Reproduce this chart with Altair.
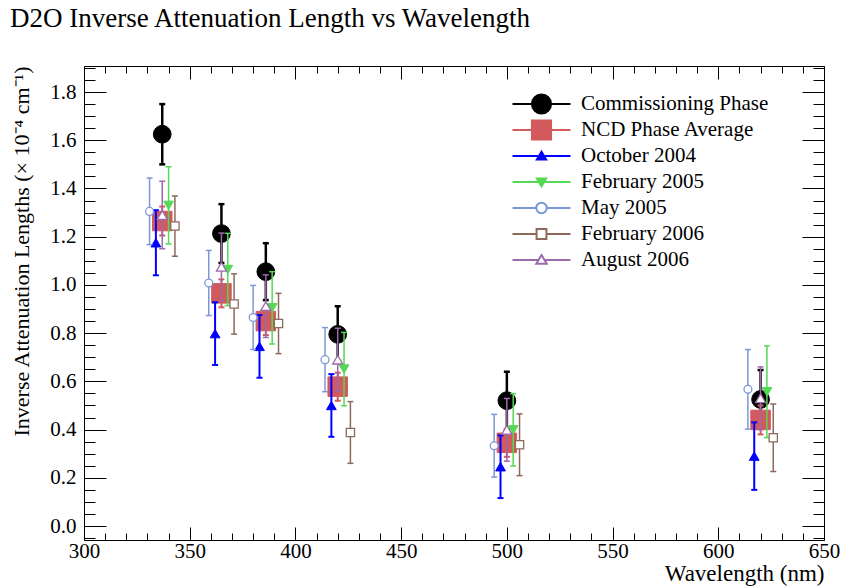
import altair as alt
import pandas as pd

# ---------------- data ----------------
wavelengths = [337, 365, 386, 420, 500, 620]
series_names = ["Commissioning Phase", "NCD Phase Average", "October 2004",
                "February 2005", "May 2005", "February 2006", "August 2006"]

commissioning = [1.625, 1.213, 1.055, 0.795, 0.520, 0.525]
commissioning_err = [0.125, 0.122, 0.118, 0.117, 0.120, 0.122]
ncd_average = [1.265, 0.965, 0.850, 0.578, 0.345, 0.440]
ncd_average_err = [0.060, 0.058, 0.058, 0.058, 0.058, 0.060]
october_2004 = [1.175, 0.798, 0.745, 0.500, 0.246, 0.290]
october_2004_err = [0.135, 0.130, 0.130, 0.130, 0.130, 0.140]
february_2005 = [1.330, 1.064, 0.905, 0.651, 0.399, 0.557]
february_2005_err = [0.160, 0.150, 0.150, 0.152, 0.150, 0.190]
may_2005 = [1.305, 1.008, 0.865, 0.690, 0.333, 0.567]
may_2005_err = [0.138, 0.135, 0.133, 0.133, 0.130, 0.165]
february_2006 = [1.244, 0.921, 0.840, 0.388, 0.337, 0.366]
february_2006_err = [0.125, 0.125, 0.125, 0.128, 0.128, 0.140]
august_2006 = [1.290, 1.075, 0.912, 0.690, 0.399, 0.530]
august_2006_err = [0.140, 0.140, 0.130, 0.130, 0.130, 0.130]

values = [commissioning, ncd_average, october_2004, february_2005,
          may_2005, february_2006, august_2006]
errors = [commissioning_err, ncd_average_err, october_2004_err, february_2005_err,
          may_2005_err, february_2006_err, august_2006_err]

x_ticks = list(range(300, 651, 10))
y_ticks = [round(-0.05 + 0.05 * i, 2) for i in range(40)]

# ---------------- styles ----------------
FONT = "Liberation Serif"
styles = {
    "Commissioning Phase": dict(color="#000000", shape="circle", size=314, fill="#000000", sw=1, ew=2.5, cap=6, shift=0),
    "NCD Phase Average": dict(color="#d25a5c", shape="square", size=380, fill="#d25a5c", sw=1, ew=2, cap=6, shift=0),
    "October 2004": dict(color="#0000ff", shape="triangle-up", size=95, fill="#0000ff", sw=1, ew=2, cap=6, shift=-3),
    "February 2005": dict(color="#55d855", shape="triangle-down", size=95, fill="#55d855", sw=1, ew=1.5, cap=6, shift=3),
    "May 2005": dict(color="#7b98d6", shape="circle", size=62, fill="#ffffff", sw=1.3, ew=1.5, cap=6, shift=-6),
    "February 2006": dict(color="#8b6a5c", shape="square", size=68, fill="#ffffff", sw=1.3, ew=1.5, cap=6, shift=6),
    "August 2006": dict(color="#9a6aaa", shape="triangle-up", size=100, fill="#ffffff", sw=1.3, ew=1.5, cap=6, shift=0),
}

# legend symbols: line + marker, in unit coordinates
legend_paths = [
    "M-1,0H1M0.33,0A0.33,0.33 0 1,1 -0.33,0A0.33,0.33 0 1,1 0.33,0Z",
    "M-1,0H1M-0.33,-0.33H0.33V0.33H-0.33Z",
    "M-1,0H1M0,-0.15L0.16,0.12L-0.16,0.12Z",
    "M-1,0H1M0,0.15L0.16,-0.12L-0.16,-0.12Z",
    "M-1,0H-0.18M0.18,0H1M0.18,0A0.18,0.18 0 1,1 -0.18,0A0.18,0.18 0 1,1 0.18,0Z",
    "M-1,0H-0.17M0.17,0H1M-0.17,-0.17H0.17V0.17H-0.17Z",
    "M-1,0H-0.1M0.1,0H1M0,-0.17L0.18,0.13L-0.18,0.13Z",
]

rows = []
for name, vals, errs in zip(series_names, values, errors):
    for wl, v, e in zip(wavelengths, vals, errs):
        rows.append(dict(series=name, wl=wl, x=wl + styles[name]["shift"],
                         y=v, lo=v - e, hi=v + e))
df = pd.DataFrame(rows)

W, H = 740, 474
xscale = alt.Scale(domain=[300, 650], nice=False, zero=False)
yscale = alt.Scale(domain=[-0.058, 1.908], nice=False, zero=False)

x_major = "abs(datum.value/50 - round(datum.value/50)) < 0.001"
y_major = "abs(datum.value*5 - round(datum.value*5)) < 0.001"

axis_common = dict(grid=False, domain=False, tickColor="black", tickWidth=1,
                   labelFont=FONT, labelFontSize=21, labelColor="black",
                   labelOverlap=False, labelFlush=False,
                   titleFont=FONT, titleFontWeight="normal",
                   titleColor="black")

x_axis_main = alt.Axis(orient="bottom", values=x_ticks, format="d",
                       tickSize={"expr": f"{x_major} ? -13 : -7"},
                       labelExpr=f"{x_major} ? datum.label : ''",
                       labelPadding=13, title="Wavelength (nm)",
                       titleAnchor="end", titleFontSize=23,
                       titleBaseline="alphabetic", titleY=40, **axis_common)
y_axis_main = alt.Axis(orient="left", values=y_ticks, format=".1f",
                       tickSize={"expr": f"{y_major} ? -22 : -11"},
                       labelExpr=f"{y_major} ? datum.label : ''",
                       labelPadding=30,
                       title="Inverse Attenuation Lengths (× 10⁻⁴ cm⁻¹)",
                       titleAnchor="end", titlePadding=16, titleFontSize=22,
                       **axis_common)
x_axis_top = alt.Axis(orient="top", values=x_ticks, labels=False, title=None,
                      tickSize={"expr": f"{x_major} ? -13 : -7"},
                      grid=False, domain=False, tickColor="black", tickWidth=1)
y_axis_right = alt.Axis(orient="right", values=y_ticks, labels=False, title=None,
                        tickSize={"expr": f"{y_major} ? -22 : -11"},
                        grid=False, domain=False, tickColor="black", tickWidth=1)

base = alt.Chart(df)

axes_a = base.mark_point(opacity=0).encode(
    x=alt.X("x:Q", scale=xscale, axis=x_axis_main),
    y=alt.Y("y:Q", scale=yscale, axis=y_axis_main))
axes_b = base.mark_point(opacity=0).encode(
    x=alt.X("x:Q", scale=xscale, axis=x_axis_top),
    y=alt.Y("y:Q", scale=yscale, axis=y_axis_right))

layers = [axes_a, axes_b]
X = alt.X("x:Q", scale=xscale, axis=None)
for name in series_names:
    st = styles[name]
    sb = base.transform_filter(alt.datum.series == name)
    layers.append(sb.mark_rule(color=st["color"], strokeWidth=st["ew"]).encode(
        x=X, y=alt.Y("lo:Q", scale=yscale, axis=None), y2="hi:Q"))
    for f in ["lo", "hi"]:
        layers.append(sb.mark_tick(orient="horizontal", color=st["color"], opacity=1,
                                   thickness=st["ew"], size=st["cap"]).encode(
            x=X, y=alt.Y(f"{f}:Q", scale=yscale, axis=None)))
    layers.append(sb.mark_point(shape=st["shape"], size=st["size"], filled=True,
                                fill=st["fill"], stroke=st["color"],
                                strokeWidth=st["sw"], opacity=1).encode(
        x=X, y=alt.Y("y:Q", scale=yscale, axis=None)))

legend = alt.Legend(orient="none", legendX=427.5, legendY=25.25, title=None,
                    padding=0, rowPadding=0, clipHeight=25.5,
                    symbolSize=3364, symbolStrokeWidth=2, symbolOpacity=1,
                    labelFont=FONT, labelFontSize=21, labelColor="black",
                    labelOffset=9.5, labelLimit=0)
legend_layer = base.transform_filter("false").mark_point(filled=True, opacity=1).encode(
    x=X, y=alt.Y("y:Q", scale=yscale, axis=None),
    shape=alt.Shape("series:N", scale=alt.Scale(domain=series_names, range=legend_paths),
                    legend=legend),
    fill=alt.Fill("series:N", scale=alt.Scale(domain=series_names,
                                              range=[styles[n]["fill"] for n in series_names]),
                  legend=legend),
    stroke=alt.Stroke("series:N", scale=alt.Scale(domain=series_names,
                                                  range=[styles[n]["color"] for n in series_names]),
                      legend=legend),
)
layers.append(legend_layer)

chart = alt.layer(*layers).resolve_axis(x="independent", y="independent").properties(
    width=W, height=H, autosize="none",
    padding={"left": 84, "top": 66, "right": 17, "bottom": 46},
    title=alt.TitleParams("D2O Inverse Attenuation Length vs Wavelength",
                          anchor="start", frame="group", dx=-74, offset=3,
                          baseline="alphabetic", font=FONT, fontSize=27,
                          fontWeight="normal", color="black"),
    background="white",
).configure_view(stroke="black", strokeWidth=1)

chart.save("out.html", embed_options={"renderer": "svg", "actions": False})
